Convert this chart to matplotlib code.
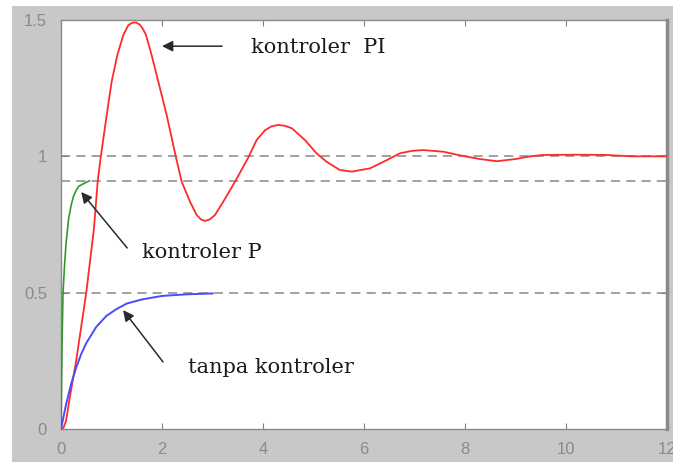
import matplotlib.pyplot as plt
from matplotlib.patches import Rectangle

# ---------------------------------------------
# step responses
# ---------------------------------------------

# PI controller (red)
t_pi = [0, 0.05, 0.1, 0.16, 0.3, 0.5, 0.653, 0.726, 0.786, 0.905, 1.003,
        1.115, 1.234, 1.333, 1.41, 1.485, 1.56, 1.62, 1.683, 1.795, 1.927,
        2.093, 2.277, 2.39, 2.554, 2.686, 2.77, 2.851, 2.94, 3.05, 3.214,
        3.446, 3.71, 3.875, 4.04, 4.17, 4.30, 4.43, 4.57, 4.83, 5.06, 5.26,
        5.52, 5.76, 6.12, 6.45, 6.71, 6.95, 7.17, 7.57, 7.97, 8.3, 8.63, 9.0,
        9.29, 9.54, 10.2, 10.81, 11.3, 12.0]
y_pi = [0, 0.005, 0.03, 0.1, 0.25, 0.5, 0.736, 0.907, 0.996, 1.151, 1.274,
        1.371, 1.445, 1.481, 1.49, 1.491, 1.483, 1.468, 1.445, 1.371, 1.274,
        1.151, 0.996, 0.907, 0.834, 0.785, 0.769, 0.763, 0.768, 0.785, 0.834,
        0.907, 0.996, 1.06, 1.096, 1.110, 1.115, 1.112, 1.103, 1.06, 1.011, 0.98,
        0.95, 0.944, 0.956, 0.986, 1.011, 1.020, 1.023, 1.017, 1.001, 0.99,
        0.982, 0.99, 1.0, 1.005, 1.006, 1.005, 1.0, 1.0]

# P controller (green)
t_p = [0, 0.01, 0.02, 0.04, 0.07, 0.1, 0.15, 0.2, 0.25, 0.3, 0.35, 0.45, 0.56]
y_p = [0, 0.15, 0.3, 0.5, 0.6, 0.68, 0.77, 0.82, 0.855, 0.875, 0.89, 0.90, 0.91]

# no controller (blue)
t_open = [0, 0.1, 0.2, 0.3, 0.4, 0.5, 0.7, 0.9, 1.1, 1.3, 1.6, 2.0, 2.5, 3.0]
y_open = [0, 0.09, 0.165, 0.225, 0.275, 0.315, 0.375, 0.415, 0.44, 0.46,
          0.475, 0.488, 0.494, 0.497]

# reference levels (dashed)
ref_levels = [1.0, 0.909, 0.5]

xticks = [0, 2, 4, 6, 8, 10, 12]
yticks = [0, 0.5, 1, 1.5]

# ---------------------------------------------
# figure
# ---------------------------------------------

fig = plt.figure(figsize=(6.73, 4.62), dpi=100)
fig.patch.set_facecolor("white")

# grey window frame
fig.patches.append(
    Rectangle((12 / 673, 0), 1, 1 - 6 / 462,
              transform=fig.transFigure, facecolor="#c8c8c8",
              edgecolor="none", zorder=-10)
)

ax = fig.add_axes([61 / 673, 33 / 462, 606 / 673, 409 / 462])
ax.set_facecolor("white")

for lvl in ref_levels:
    ax.axhline(lvl, color="#888888", lw=1.1, dashes=(6, 4), zorder=1)

ax.plot(t_pi, y_pi, color="#ff2a2a", lw=1.3, zorder=3)
ax.plot(t_p, y_p, color="#2e9a2e", lw=1.2, zorder=3)
ax.plot(t_open, y_open, color="#4a4aff", lw=1.4, zorder=3)

ax.set_xlim(0, 12)
ax.set_ylim(0, 1.5)
ax.set_xticks(xticks)
ax.set_yticks(yticks)
ax.set_xticklabels([str(v) for v in xticks])
ax.set_yticklabels(["0", "0.5", "1", "1.5"])

ax.tick_params(direction="in", length=4, width=0.8, color="#808080",
               top=True, right=True, labelcolor="#8a8a8a", labelsize=12)
ax.tick_params(axis="x", pad=9)
ax.tick_params(axis="y", pad=10)

for lbl in ax.get_xticklabels() + ax.get_yticklabels():
    lbl.set_family("Liberation Sans")

for side in ax.spines.values():
    side.set_color("#8a8a8a")
    side.set_linewidth(1.0)
ax.spines["right"].set_linewidth(2.5)

# ---------------------------------------------
# annotations
# ---------------------------------------------

arrow = dict(arrowstyle="-|>", color="#2a2a2a", lw=1.1,
             mutation_scale=16, shrinkA=0, shrinkB=0)
font = dict(family="DejaVu Serif", fontsize=15, color="#1a1a1a",
            va="center", ha="left")

ax.annotate("", xy=(2.0, 1.404), xytext=(3.19, 1.404), arrowprops=arrow)
ax.text(3.76, 1.40, "kontroler  PI", **font)

ax.annotate("", xy=(0.40, 0.869), xytext=(1.31, 0.664), arrowprops=arrow)
ax.text(1.6, 0.649, "kontroler P", **font)

ax.annotate("", xy=(1.23, 0.436), xytext=(2.02, 0.246), arrowprops=arrow)
ax.text(2.51, 0.227, "tanpa kontroler", **font)

plt.savefig("out.png", dpi=100, facecolor=fig.get_facecolor())
